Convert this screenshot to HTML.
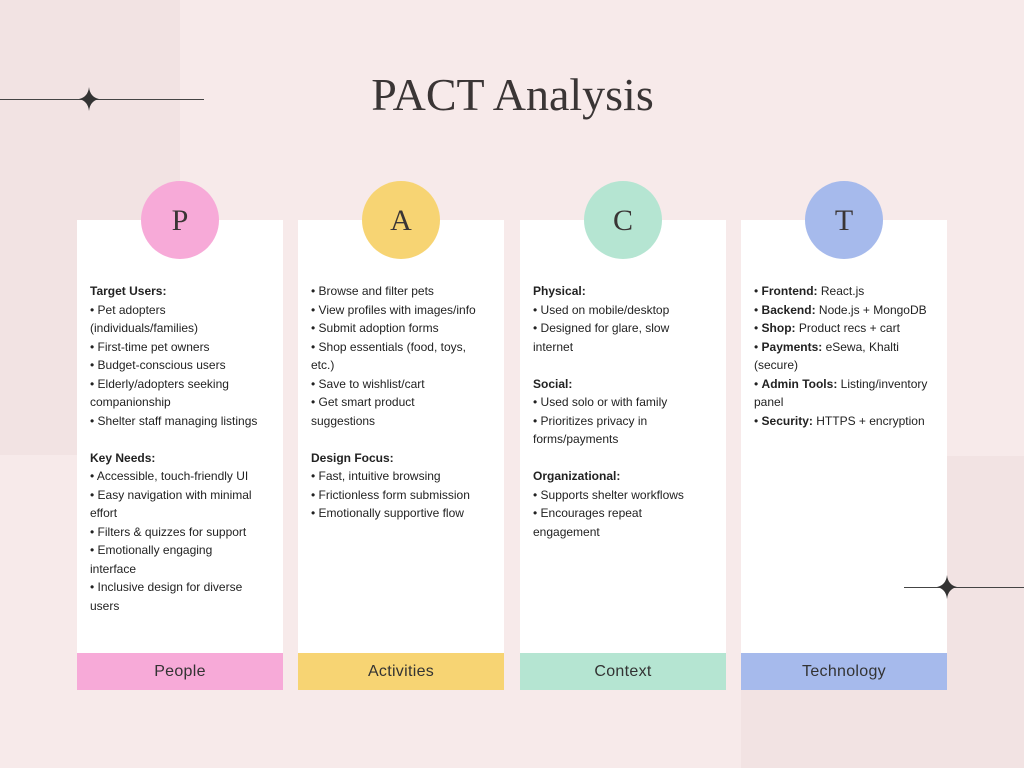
<!DOCTYPE html>
<html><head><meta charset="utf-8"><style>
*{margin:0;padding:0;box-sizing:border-box}
body{width:1024px;height:768px;background:#f7eaea;position:relative;overflow:hidden;font-family:"Liberation Sans",sans-serif;color:#222}
.bg1{position:absolute;left:0;top:0;width:180px;height:455px;background:#f2e3e3}
.bg2{position:absolute;left:741px;top:456px;width:283px;height:312px;background:#f2e3e3}
.line{position:absolute;height:1px;background:#444;z-index:5}
.star{position:absolute;width:20px;height:24px;z-index:6}
h1{position:absolute;left:0;width:1024px;top:68px;text-align:center;font-family:"Liberation Serif",serif;font-weight:normal;font-size:46px;color:#3a3535;padding-left:1px}
.card{position:absolute;top:220px;width:206px;height:470px;background:#fff}
.foot{position:absolute;left:0;bottom:0;width:100%;height:37px;text-align:center;line-height:37px;font-size:16px;color:#333;letter-spacing:0.3px}
.circ{position:absolute;width:78px;height:78px;border-radius:50%;top:181px;text-align:center;line-height:80px;font-family:"Liberation Serif",serif;font-size:30px;color:#3a3535}
.txt{position:absolute;left:13px;top:62px;font-size:12px;line-height:18.5px;white-space:nowrap}
b{font-weight:bold}
</style></head><body>
<div class="bg1"></div><div class="bg2"></div>
<h1>PACT Analysis</h1>

<div class="card" style="left:77px">
<div class="txt"><b>Target Users:</b><br>• Pet adopters<br>(individuals/families)<br>• First-time pet owners<br>• Budget-conscious users<br>• Elderly/adopters seeking<br>companionship<br>• Shelter staff managing listings<br><br><b>Key Needs:</b><br>• Accessible, touch-friendly UI<br>• Easy navigation with minimal<br>effort<br>• Filters &amp; quizzes for support<br>• Emotionally engaging<br>interface<br>• Inclusive design for diverse<br>users</div>
<div class="foot" style="background:#f7aad8">People</div></div>

<div class="card" style="left:298px">
<div class="txt">• Browse and filter pets<br>• View profiles with images/info<br>• Submit adoption forms<br>• Shop essentials (food, toys,<br>etc.)<br>• Save to wishlist/cart<br>• Get smart product<br>suggestions<br><br><b>Design Focus:</b><br>• Fast, intuitive browsing<br>• Frictionless form submission<br>• Emotionally supportive flow</div>
<div class="foot" style="background:#f7d473">Activities</div></div>

<div class="card" style="left:520px">
<div class="txt"><b>Physical:</b><br>• Used on mobile/desktop<br>• Designed for glare, slow<br>internet<br><br><b>Social:</b><br>• Used solo or with family<br>• Prioritizes privacy in<br>forms/payments<br><br><b>Organizational:</b><br>• Supports shelter workflows<br>• Encourages repeat<br>engagement</div>
<div class="foot" style="background:#b5e5d2">Context</div></div>

<div class="card" style="left:741px">
<div class="txt">• <b>Frontend:</b> React.js<br>• <b>Backend:</b> Node.js + MongoDB<br>• <b>Shop:</b> Product recs + cart<br>• <b>Payments:</b> eSewa, Khalti<br>(secure)<br>• <b>Admin Tools:</b> Listing/inventory<br>panel<br>• <b>Security:</b> HTTPS + encryption</div>
<div class="foot" style="background:#a6baec">Technology</div></div>

<div class="circ" style="left:141px;background:#f7aad8">P</div>
<div class="circ" style="left:362px;background:#f7d473">A</div>
<div class="circ" style="left:584px;background:#b5e5d2">C</div>
<div class="circ" style="left:805px;background:#a6baec">T</div>

<div class="line" style="left:0;top:99px;width:204px"></div>
<svg class="star" style="left:79px;top:87px" viewBox="0 0 20 24"><path d="M10 0 Q11 10 20 12 Q11 14 10 24 Q9 14 0 12 Q9 10 10 0Z" fill="#333"/></svg>
<div class="line" style="left:904px;top:587px;width:120px"></div>
<svg class="star" style="left:937px;top:575px" viewBox="0 0 20 24"><path d="M10 0 Q11 10 20 12 Q11 14 10 24 Q9 14 0 12 Q9 10 10 0Z" fill="#333"/></svg>
</body></html>
